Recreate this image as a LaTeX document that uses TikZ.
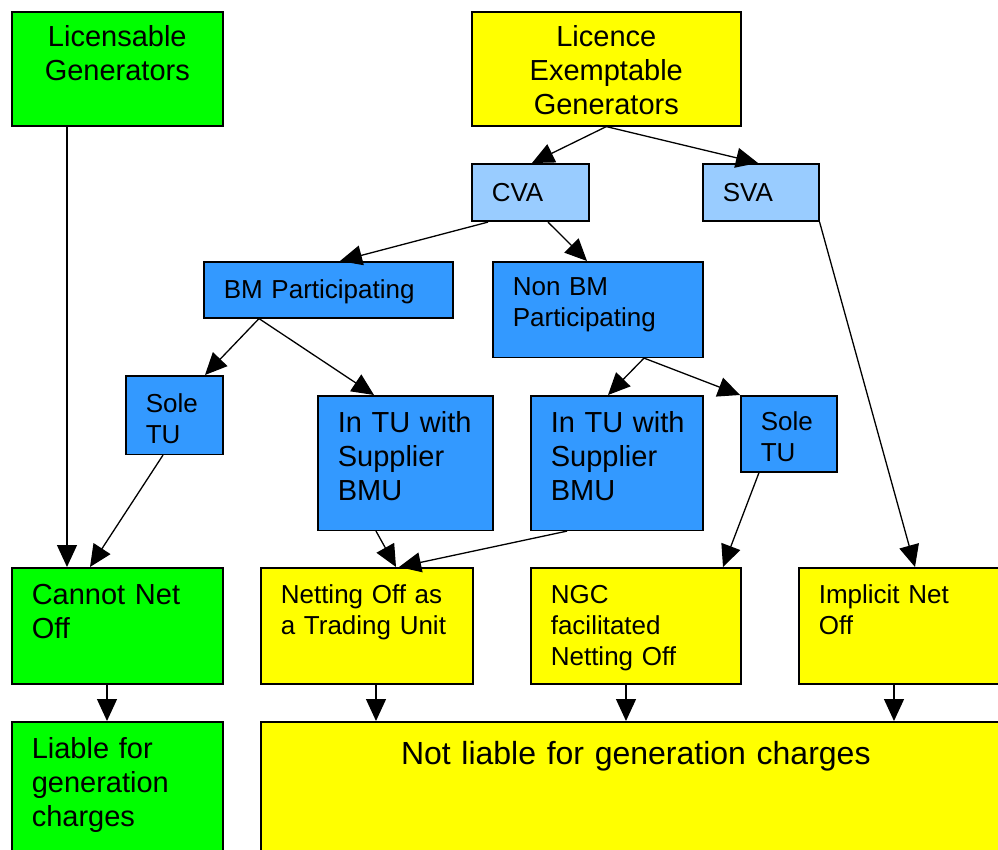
\documentclass[tikz,border=0pt]{standalone}
\usepackage{fontspec}
\setmainfont{Liberation Sans}
\usetikzlibrary{arrows.meta, calc}
\definecolor{boxgreen}{HTML}{00FF00}
\definecolor{boxyellow}{HTML}{FFFF00}
\definecolor{paleblue}{HTML}{99CCFF}
\definecolor{midblue}{HTML}{3399FF}

\begin{document}
\begin{tikzpicture}[x=1pt, y=-1pt,
	every node/.append style={draw=black, line width=1.6pt, anchor=north west, inner xsep=20pt, inner ysep=0pt, align=left},
	small/.style={font=\fontsize{26}{31}\selectfont},
	large/.style={font=\fontsize{29}{34}\selectfont},
	flow/.style={-{Triangle[length=22pt, width=20pt]}, line width=1.3pt}]
	\useasboundingbox (0,0) rectangle (998,850);
	% top row
	\node[fill=boxgreen, large, align=center, text width=171pt, text height=35pt, text depth=79pt] (lic) at (11,11) {Licensable\\Generators};
	\node[fill=boxyellow, large, align=center, text width=229pt, text height=35pt, text depth=79pt] (exm) at (471,11) {Licence\\Exemptable\\Generators};
	\node[fill=paleblue, small, text width=77pt, text height=37.5pt, text depth=20pt] (cva) at (471,163) {CVA};
	\node[fill=paleblue, small, text width=76pt, text height=37.5pt, text depth=20pt] (sva) at (702,163) {SVA};
	% participation
	\node[fill=midblue, small, text width=209pt, text height=36.5pt, text depth=19.5pt] (bmp) at (203,261) {BM Participating};
	\node[fill=midblue, small, text width=170pt, text height=34pt, text depth=61.5pt] (nbmp) at (492,261) {Non BM\\Participating};
	\node[fill=midblue, small, text width=57pt, text height=36.5pt, text depth=42pt] (soleA) at (125,375) {Sole\\TU};
	\node[fill=midblue, large, text width=135pt, text height=36.7pt, text depth=97.8pt] (tuA) at (317,395) {\mbox{In TU with}\\Supplier\\BMU};
	\node[fill=midblue, large, text width=132pt, text height=36.7pt, text depth=97.8pt] (tuB) at (530,395) {\mbox{In TU with}\\Supplier\\BMU};
	\node[fill=midblue, small, text width=56pt, text height=34.7pt, text depth=41.3pt] (soleB) at (740,395) {Sole\\TU};
	% netting
	\node[fill=boxgreen, large, text width=171pt, text height=36.3pt, text depth=79.7pt] (cno) at (11,567) {Cannot Net\\Off};
	\node[fill=boxyellow, small, text width=172pt, text height=36pt, text depth=80pt] (tun) at (260,567) {Netting Off as\\a Trading Unit};
	\node[fill=boxyellow, small, text width=170pt, text height=36pt, text depth=80pt] (ngc) at (530,567) {NGC\\facilitated\\Netting Off};
	\node[fill=boxyellow, small, text width=170pt, text height=36pt, text depth=80pt] (imp) at (798,567) {Implicit Net\\Off};
	% charges
	\node[fill=boxgreen, large, text width=171pt, text height=36.7pt, text depth=103.3pt] (liab) at (11,721) {Liable for\\generation\\charges};
	\node[fill=boxyellow, font=\fontsize{32}{38}\selectfont, align=center, text width=710pt, text height=42.3pt, text depth=97.7pt] (nliab) at (260,721) {Not liable for generation charges};
	% connectors
	\draw[flow] ([xshift=56pt]lic.south west) -- ([xshift=56pt]cno.north west);
	\draw[flow] (exm.south) -- ([xshift=61pt]cva.north west);
	\draw[flow] (exm.south) -- ([xshift=56pt]sva.north west);
	\draw[flow] ([xshift=17pt]cva.south west) -- ([xshift=137pt]bmp.north west);
	\draw[flow] ([xshift=77pt]cva.south west) -- ([xshift=95pt]nbmp.north west);
	\draw[flow] (sva.south east) -- ([xshift=117pt]imp.north west);
	\draw[flow] ([xshift=56pt]bmp.south west) -- ([xshift=80pt]soleA.north west);
	\draw[flow] ([xshift=56pt]bmp.south west) -- ([xshift=57pt]tuA.north west);
	\draw[flow] ([xshift=152pt]nbmp.south west) -- ([xshift=78pt]tuB.north west);
	\draw[flow] ([xshift=152pt]nbmp.south west) -- (soleB.north west);
	\draw[flow] ([xshift=38pt]soleA.south west) -- ([xshift=79pt]cno.north west);
	\draw[flow] ([xshift=59pt]tuA.south west) -- ([xshift=136pt]tun.north west);
	\draw[flow] ([xshift=37pt]tuB.south west) -- ([xshift=139pt]tun.north west);
	\draw[flow] ([xshift=19pt]soleB.south west) -- ([xshift=193pt]ngc.north west);
	\draw[flow] ([xshift=96pt]cno.south west) -- ([xshift=96pt]liab.north west);
	\foreach \n/\d/\e in {tun/116/116, ngc/96/366, imp/96/634}
		\draw[flow] ([xshift=\d pt]\n.south west) -- ([xshift=\e pt]nliab.north west);
\end{tikzpicture}
\end{document}
